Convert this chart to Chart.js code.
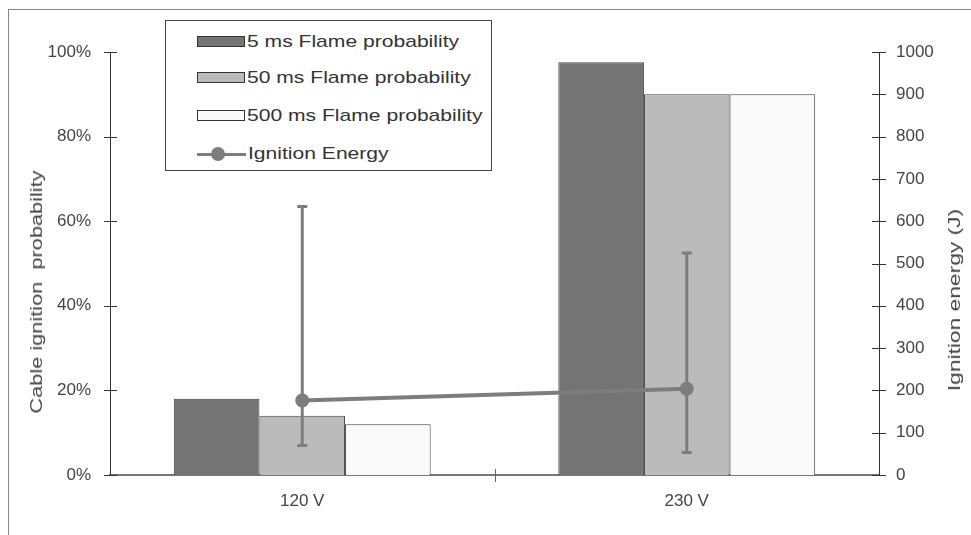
<!DOCTYPE html>
<html>
<head>
<meta charset="utf-8">
<script src="https://cdn.jsdelivr.net/npm/chart.js@4.4.1/dist/chart.umd.min.js"></script>
<style>
  html, body { margin: 0; padding: 0; background: #fff; }
  #wrap { position: relative; width: 971px; height: 535px; overflow: hidden; font-family: "Liberation Sans", Arial, sans-serif; }
  #frame { position: absolute; left: 8px; top: 9px; right: -2px; bottom: -2px; border-top: 1px solid #888; border-left: 1px solid #888; }
  #legend { position: absolute; left: 165px; top: 20px; width: 327px; height: 151px; border: 1px solid #444; background: #fff; box-sizing: border-box; }
  .item { position: absolute; left: 31px; height: 20px; font-size: 17px; color: #333; line-height: 20px; white-space: nowrap; }
  .item .txt { display: inline-block; transform: scaleX(1.24); transform-origin: left center; }
  .sw { display: inline-block; width: 48px; height: 11px; border: 1px solid #333; vertical-align: middle; margin-right: 2px; position: relative; top: -1px; box-sizing: border-box; }
  .ln { display: inline-block; width: 49px; height: 14px; vertical-align: middle; margin-right: 2px; position: relative; top: -1px; }
  .ln:before { content: ""; position: absolute; left: 0; right: 0; top: 6px; height: 3px; background: #7d7d7d; }
  .ln:after { content: ""; position: absolute; left: 14px; top: 0; width: 14px; height: 14px; border-radius: 50%; background: #7d7d7d; }
  .ytitle { position: absolute; font-size: 17px; color: #444; white-space: nowrap; }
</style>
</head>
<body>
<div id="wrap">
  <canvas id="chart" width="971" height="535"></canvas>
  <div id="frame"></div>
  <div id="legend"></div>
  <div class="ytitle" id="leftTitle" style="left:37px; top:292px; transform: translate(-50%, -50%) rotate(-90deg) scaleX(1.28);">Cable ignition&nbsp; probability</div>
  <div class="ytitle" id="rightTitle" style="left:955px; top:300px; transform: translate(-50%, -50%) rotate(-90deg) scaleX(1.34);">Ignition energy (J)</div>
</div>
<script>
  const categories = ['120 V', '230 V'];
  const flame5 = [18, 97.6];
  const flame50 = [14, 90];
  const flame500 = [12, 90];
  const energy = [176, 204];
  const energyLow = [70, 53];
  const energyHigh = [635, 525];
  const seriesNames = ['5 ms Flame probability', '50 ms Flame probability', '500 ms Flame probability', 'Ignition Energy'];

  const barColors = ['#747474', '#bbbbbb', '#fafafa'];
  const lineColor = '#7d7d7d';

  // legend (html, sits inside the plot like the original)
  const legendEl = document.getElementById('legend');
  const rowTops = [11, 47, 85, 123];
  seriesNames.forEach((name, i) => {
    const div = document.createElement('div');
    div.className = 'item';
    div.style.top = rowTops[i] + 'px';
    const mark = i < 3
      ? '<span class="sw" style="background:' + barColors[i] + '"></span>'
      : '<span class="ln"></span>';
    div.innerHTML = mark + '<span class="txt">' + name + '</span>';
    legendEl.appendChild(div);
  });

  // ticks that cross the axis lines + error bars
  const extrasPlugin = {
    id: 'extras',
    afterDatasetsDraw(chart) {
      const ctx = chart.ctx;
      const x = chart.scales.x;
      const yL = chart.scales.y;
      const yR = chart.scales.y2;

      // error bars on ignition energy
      ctx.save();
      ctx.strokeStyle = lineColor;
      ctx.lineWidth = 3;
      energy.forEach((v, i) => {
        const px = x.getPixelForValue(i);
        const top = yR.getPixelForValue(energyHigh[i]);
        const bot = yR.getPixelForValue(energyLow[i]);
        ctx.beginPath();
        ctx.moveTo(px, top); ctx.lineTo(px, bot);
        ctx.moveTo(px - 5, top); ctx.lineTo(px + 5, top);
        ctx.moveTo(px - 5, bot); ctx.lineTo(px + 5, bot);
        ctx.stroke();
      });
      ctx.restore();

      ctx.save();
      ctx.strokeStyle = '#333';
      ctx.lineWidth = 1;
      ctx.beginPath();
      yL.ticks.forEach(t => {
        const py = Math.round(yL.getPixelForValue(t.value)) + 0.5;
        ctx.moveTo(yL.right - 6, py); ctx.lineTo(yL.right + 7, py);
      });
      yR.ticks.forEach(t => {
        const py = Math.round(yR.getPixelForValue(t.value)) + 0.5;
        ctx.moveTo(yR.left - 7, py); ctx.lineTo(yR.left + 7, py);
      });
      ctx.stroke();
      ctx.strokeStyle = '#666';
      ctx.beginPath();
      const mid = Math.round((x.getPixelForValue(0) + x.getPixelForValue(1)) / 2) + 0.5;
      ctx.moveTo(mid, x.top - 6); ctx.lineTo(mid, x.top + 7);
      ctx.stroke();
      ctx.restore();
    }
  };

  new Chart(document.getElementById('chart'), {
    data: {
      labels: categories,
      datasets: [
        { type: 'line', label: seriesNames[3], data: energy, yAxisID: 'y2', order: 0,
          borderColor: lineColor, backgroundColor: lineColor, borderWidth: 4,
          pointRadius: 7, pointHoverRadius: 7, pointBackgroundColor: lineColor, pointBorderWidth: 0 },
        { type: 'bar', label: seriesNames[0], data: flame5, yAxisID: 'y', order: 1,
          backgroundColor: barColors[0], borderColor: '#444', borderWidth: 1 },
        { type: 'bar', label: seriesNames[1], data: flame50, yAxisID: 'y', order: 1,
          backgroundColor: barColors[1], borderColor: '#444', borderWidth: 1 },
        { type: 'bar', label: seriesNames[2], data: flame500, yAxisID: 'y', order: 1,
          backgroundColor: barColors[2], borderColor: '#444', borderWidth: 1 }
      ]
    },
    options: {
      responsive: false,
      animation: false,
      layout: { padding: { top: 52, left: 0, right: 0, bottom: 0 } },
      datasets: { bar: { categoryPercentage: 0.668, barPercentage: 1.0 } },
      plugins: { legend: { display: false }, tooltip: { enabled: false } },
      scales: {
        x: {
          offset: true,
          grid: { display: false },
          border: { color: '#777', width: 2 },
          ticks: { color: '#444', font: { family: 'Liberation Sans', size: 17 }, padding: 8 },
          afterFit(s) { s.height = 60; }
        },
        y: {
          position: 'left',
          min: 0, max: 100,
          grid: { display: false },
          border: { color: '#333', width: 1 },
          ticks: { stepSize: 20, color: '#444', padding: 11,
                   font: { family: 'Liberation Sans', size: 17 },
                   callback: v => v + '%' },
          afterFit(s) { s.width = 110; }
        },
        y2: {
          position: 'right',
          min: 0, max: 1000,
          grid: { display: false },
          border: { color: '#333', width: 1 },
          ticks: { stepSize: 100, color: '#444', padding: 9,
                   font: { family: 'Liberation Sans', size: 17 },
                   callback: v => String(v) },
          afterFit(s) { s.width = 92; }
        }
      }
    },
    plugins: [extrasPlugin]
  });
</script>
</body>
</html>
